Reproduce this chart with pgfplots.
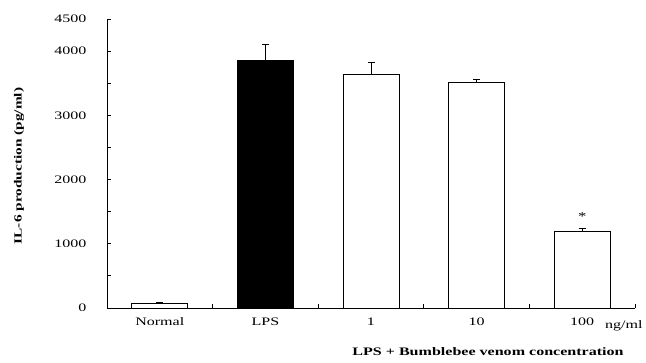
\documentclass[border=0pt]{standalone}
\usepackage{pgfplots}
\pgfplotsset{compat=1.18}
\usepackage{fontspec}
\setmainfont{Liberation Serif}[FakeStretch=1.4]
\begin{document}
\begin{tikzpicture}[x=1bp,y=1bp]
\useasboundingbox (0,0) rectangle (646,362);
\begin{axis}[
  at={(107bp,54bp)}, anchor=south west,
  scale only axis, width=528bp, height=289bp,
  xmin=-0.5, xmax=4.5, ymin=0, ymax=4500,
  axis x line=bottom, axis y line=left,
  axis line style={-, line width=0.9pt},
  tick align=inside, tick style={black, line width=0.8pt},
  xtick={0,1,2,3,4}, xticklabels={Normal,LPS,1,10,100},
  major x tick style={draw=none},
  minor xtick={0.5,1.5,2.5,3.5,4.5}, minor tick length=4bp,
  ytick={0,500,...,4500}, yticklabels={0,,1000,,2000,,3000,,4000,4500},
  major tick length=4bp,
  tick label style={font=\fontsize{11.5}{12}\selectfont},
  yticklabel style={xshift=-17bp},
  xticklabel style={yshift=-6bp},
  /pgf/number format/assume math mode=true,
  clip=false,
]
\addplot[ybar, bar width=56bp, fill=white, draw=black, line width=0.9pt,
  error bars/.cd, y dir=plus, y explicit, error bar style={line width=0.8pt}, error mark options={rotate=90, mark size=3.5bp, line width=0.8pt}]
  table[x=x, y=y, y error=e] {
x y e
0 70 25
2 3630 200
3 3505 55
4 1195 50
};
\addplot[ybar, bar width=56bp, fill=black, draw=black, line width=0.9pt,
  error bars/.cd, y dir=plus, y explicit, error bar style={line width=0.8pt}, error mark options={rotate=90, mark size=3.5bp, line width=0.8pt}]
  table[x=x, y=y, y error=e] {
x y e
1 3860 240
};
\node[font=\fontsize{12}{12}\selectfont] at (axis cs:4,1420) {*};
\end{axis}
\node[anchor=base east, font=\fontsize{11.5}{12}\selectfont] at (646,34) {ng/ml};
\node[anchor=base, font=\bfseries\fontsize{11.5}{12}\selectfont] at (488,7) {LPS + Bumblebee venom concentration};
\node[rotate=90, font=\bfseries\fontsize{11}{12}\selectfont] at (19,196) {IL-6 production (pg/ml)};
\end{tikzpicture}
\end{document}
